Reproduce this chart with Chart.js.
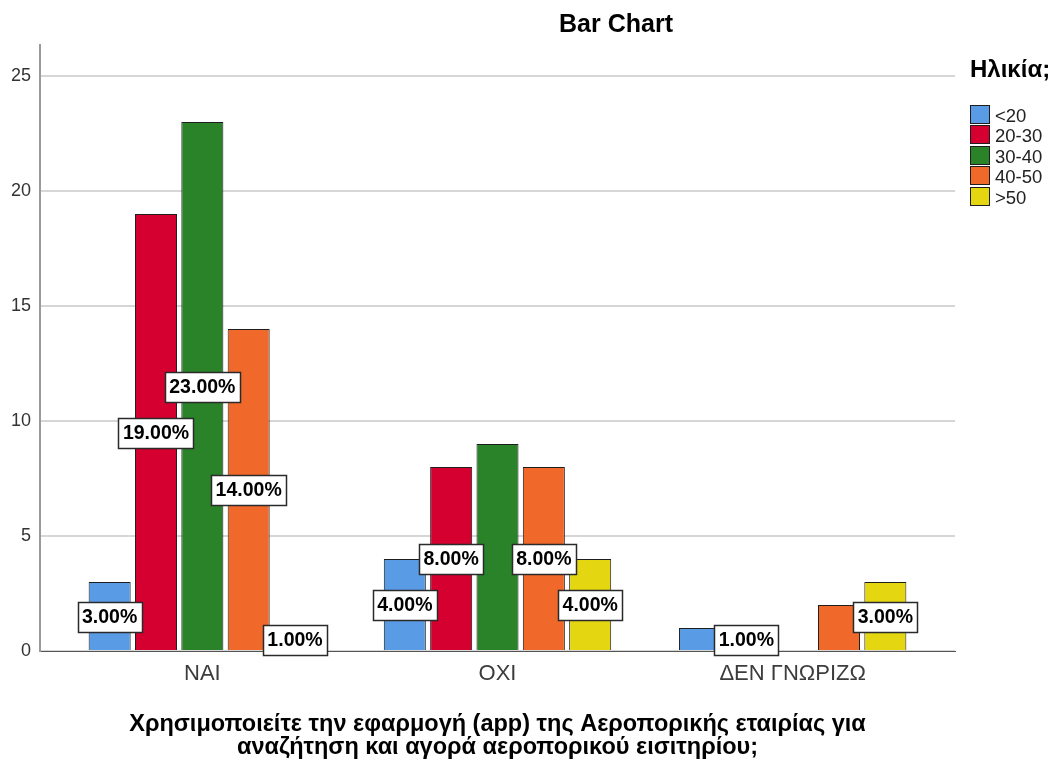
<!DOCTYPE html>
<html>
<head>
<meta charset="utf-8">
<script src="https://cdn.jsdelivr.net/npm/chart.js@4/dist/chart.umd.min.js"></script>
<style>
  html, body { margin: 0; padding: 0; background: #ffffff; }
  #wrap { width: 1053px; height: 765px; }
</style>
</head>
<body>
<div id="wrap"><canvas id="chart" width="1053" height="765"></canvas></div>
<script>
// Answers and age groups
const categories = ['ΝΑΙ', 'ΟΧΙ', 'ΔΕΝ ΓΝΩΡΙΖΩ'];
const ageGroups = ['<20', '20-30', '30-40', '40-50', '>50'];

// Number of respondents per answer, one array per age group
const countsUnder20 = [3, 4, 1];
const counts20to30 = [19, 8, 0];
const counts30to40 = [23, 9, 0];
const counts40to50 = [14, 8, 2];
const countsOver50 = [1, 4, 3];

// Percentages in the bar labels are taken over this many respondents
const respondents = 100;

const yTicks = [0, 5, 10, 15, 20, 25];

const seriesCounts = [countsUnder20, counts20to30, counts30to40, counts40to50, countsOver50];
const seriesColors = ['#5a9be6', '#d5002f', '#2a8229', '#f0692a', '#e5d612'];

// Value labels left out where they would collide with a neighbour: [series, answer]
const hiddenLabels = [[2, 1], [3, 2]];
// Value labels nudged sideways by whole bar slots: [series, answer, slots]
const shiftedLabels = [[0, 2, 1]];

const FONT = '"Liberation Sans", Arial, Helvetica, sans-serif';
const CAT_PCT = 0.785;
const BAR_PCT = 0.907;

const overlay = {
  id: 'overlay',
  afterDatasetsDraw(chart) {
    const ctx = chart.ctx;
    const yScale = chart.scales.y;
    ctx.save();
    ctx.font = 'bold 19.5px ' + FONT;
    ctx.textAlign = 'center';
    ctx.textBaseline = 'middle';
    chart.data.datasets.forEach((ds, si) => {
      const meta = chart.getDatasetMeta(si);
      seriesCounts[si].forEach((v, ci) => {
        if (!v) return;
        if (hiddenLabels.some(h => h[0] === si && h[1] === ci)) return;
        const bar = meta.data[ci];
        let cx = bar.x;
        const shift = shiftedLabels.find(s => s[0] === si && s[1] === ci);
        if (shift) cx += shift[2] * (bar.width / BAR_PCT);
        const cy = yScale.getPixelForValue(v / 2);
        const text = (v / respondents * 100).toFixed(2) + '%';
        const w = Math.round(ctx.measureText(text).width + 9);
        const h = 30;
        const bx = Math.round(cx - w / 2) + 0.5;
        const by = Math.round(cy - h / 2) + 0.5;
        ctx.fillStyle = '#ffffff';
        ctx.fillRect(bx, by, w, h);
        ctx.lineWidth = 1.5;
        ctx.strokeStyle = '#2a2a2a';
        ctx.strokeRect(bx, by, w, h);
        ctx.fillStyle = '#000000';
        ctx.fillText(text, cx, cy + 1);
      });
    });
    ctx.restore();
  },
  afterDraw(chart) {
    const ctx = chart.ctx;
    const area = chart.chartArea;
    ctx.save();
    ctx.fillStyle = '#000000';
    ctx.textBaseline = 'alphabetic';

    // Chart title
    ctx.textAlign = 'center';
    ctx.font = 'bold 25px ' + FONT;
    ctx.fillText('Bar Chart', 616, 32);

    // Horizontal axis title
    const mid = (area.left + area.right) / 2;
    ctx.font = 'bold 23.5px ' + FONT;
    ctx.fillText('Χρησιμοποιείτε την εφαρμογή (app) της Αεροπορικής εταιρίας για', mid, 731);
    ctx.fillText('αναζήτηση και αγορά αεροπορικού εισιτηρίου;', mid, 754);

    // Legend
    ctx.textAlign = 'left';
    ctx.font = 'bold 24px ' + FONT;
    ctx.fillText('Ηλικία;', 970, 77);
    ctx.font = '18.5px ' + FONT;
    chart.data.datasets.forEach((ds, i) => {
      const top = Math.round(105 + i * 20.4);
      ctx.fillStyle = ds.backgroundColor;
      ctx.fillRect(970.5, top + 0.5, 19, 18);
      ctx.lineWidth = 1;
      ctx.strokeStyle = '#1e1e1e';
      ctx.strokeRect(970.5, top + 0.5, 19, 18);
      ctx.fillStyle = '#222222';
      ctx.fillText(ds.label, 995, top + 17);
    });
    ctx.restore();
  }
};

new Chart(document.getElementById('chart'), {
  type: 'bar',
  data: {
    datasets: ageGroups.map((g, si) => ({
      label: g,
      data: seriesCounts[si].map((v, ci) => ({ x: ci, y: v === 0 ? null : v })),
      backgroundColor: seriesColors[si],
      borderColor: '#1e1e1e',
      borderWidth: 1,
      categoryPercentage: CAT_PCT,
      barPercentage: BAR_PCT
    }))
  },
  options: {
    responsive: false,
    animation: false,
    layout: { padding: { left: 0, top: 45, right: 98, bottom: 0 } },
    plugins: {
      legend: { display: false },
      tooltip: { enabled: false },
      title: { display: false }
    },
    scales: {
      x: {
        type: 'linear',
        offset: false,
        min: -0.55,
        max: 2.55,
        afterBuildTicks: s => { s.ticks = categories.map((_, i) => ({ value: i })); },
        afterFit: s => { s.height = 114; },
        grid: { display: false, drawTicks: false, offset: false },
        border: { display: true, color: '#555555', width: 1 },
        ticks: {
          callback: v => categories[v],
          font: { size: 22, family: FONT },
          color: '#3c3c3c',
          padding: 10,
          autoSkip: false,
          maxRotation: 0
        }
      },
      y: {
        min: 0,
        max: 26.35,
        afterBuildTicks: s => { s.ticks = yTicks.map(v => ({ value: v })); },
        afterFit: s => { s.width = 40; },
        grid: { color: '#d6d6d6', lineWidth: 2, drawTicks: false },
        border: { display: true, color: '#9a9a9a', width: 2 },
        ticks: { font: { size: 18, family: FONT }, color: '#333333', padding: 9 }
      }
    }
  },
  plugins: [overlay]
});
</script>
</body>
</html>
